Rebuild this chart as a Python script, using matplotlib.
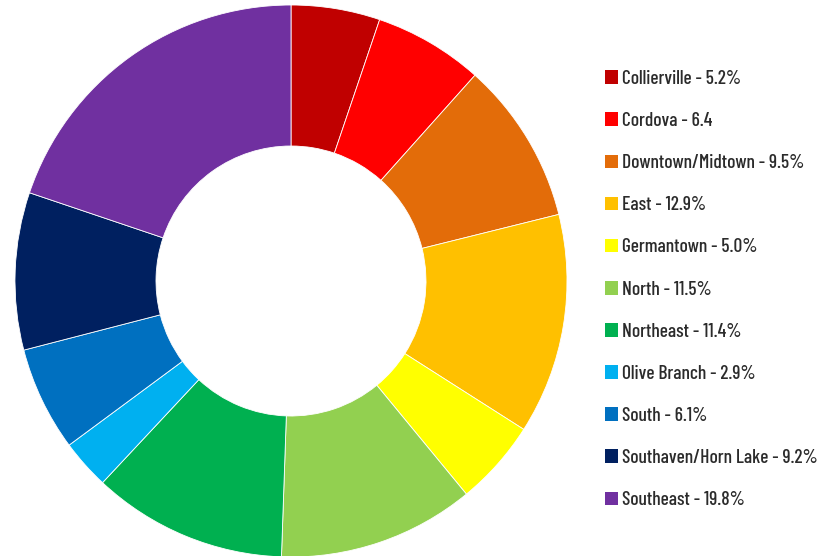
import matplotlib
matplotlib.use("Agg")
import matplotlib.pyplot as plt
from matplotlib.patches import Patch

categories = ["Collierville", "Cordova", "Downtown/Midtown", "East", "Germantown",
              "North", "Northeast", "Olive Branch", "South", "Southaven/Horn Lake", "Southeast"]
values = [5.2, 6.4, 9.5, 12.9, 5.0, 11.5, 11.4, 2.9, 6.1, 9.2, 19.8]
labels = ["Collierville - 5.2%", "Cordova - 6.4", "Downtown/Midtown - 9.5%", "East - 12.9%",
          "Germantown - 5.0%", "North - 11.5%", "Northeast - 11.4%", "Olive Branch - 2.9%",
          "South - 6.1%", "Southaven/Horn Lake - 9.2%", "Southeast - 19.8%"]
colors = ["#C00000", "#FF0000", "#E36C09", "#FFC000", "#FFFF00", "#92D050",
          "#00B050", "#00B0F0", "#0070C0", "#002060", "#7030A0"]

fam = ["Barlow Condensed", "DejaVu Sans"]

W, H = 825, 556
fig = plt.figure(figsize=(W / 100, H / 100), dpi=100)
ax = fig.add_axes([0, 0, 1, 1])

R = 276
ax.pie(values, colors=colors, startangle=90, counterclock=False,
       center=(291, H - 281), radius=R,
       wedgeprops=dict(width=141, edgecolor="white", linewidth=0.6))
ax.set_xlim(0, W)
ax.set_ylim(0, H)
ax.set_aspect("equal")
ax.axis("off")

handles = [Patch(facecolor=c, edgecolor="none") for c in colors]
leg = ax.legend(handles, labels, loc="upper left", bbox_to_anchor=(605 / W, 1 - 70 / H),
                bbox_transform=fig.transFigure, frameon=False,
                prop=dict(family=fam, size=14.0, weight=500), labelcolor="#2b2b2b",
                handlelength=0.67, handleheight=0.7, handletextpad=0.2,
                labelspacing=1.24, borderaxespad=0, borderpad=0)

fig.savefig("out.png", dpi=100)
